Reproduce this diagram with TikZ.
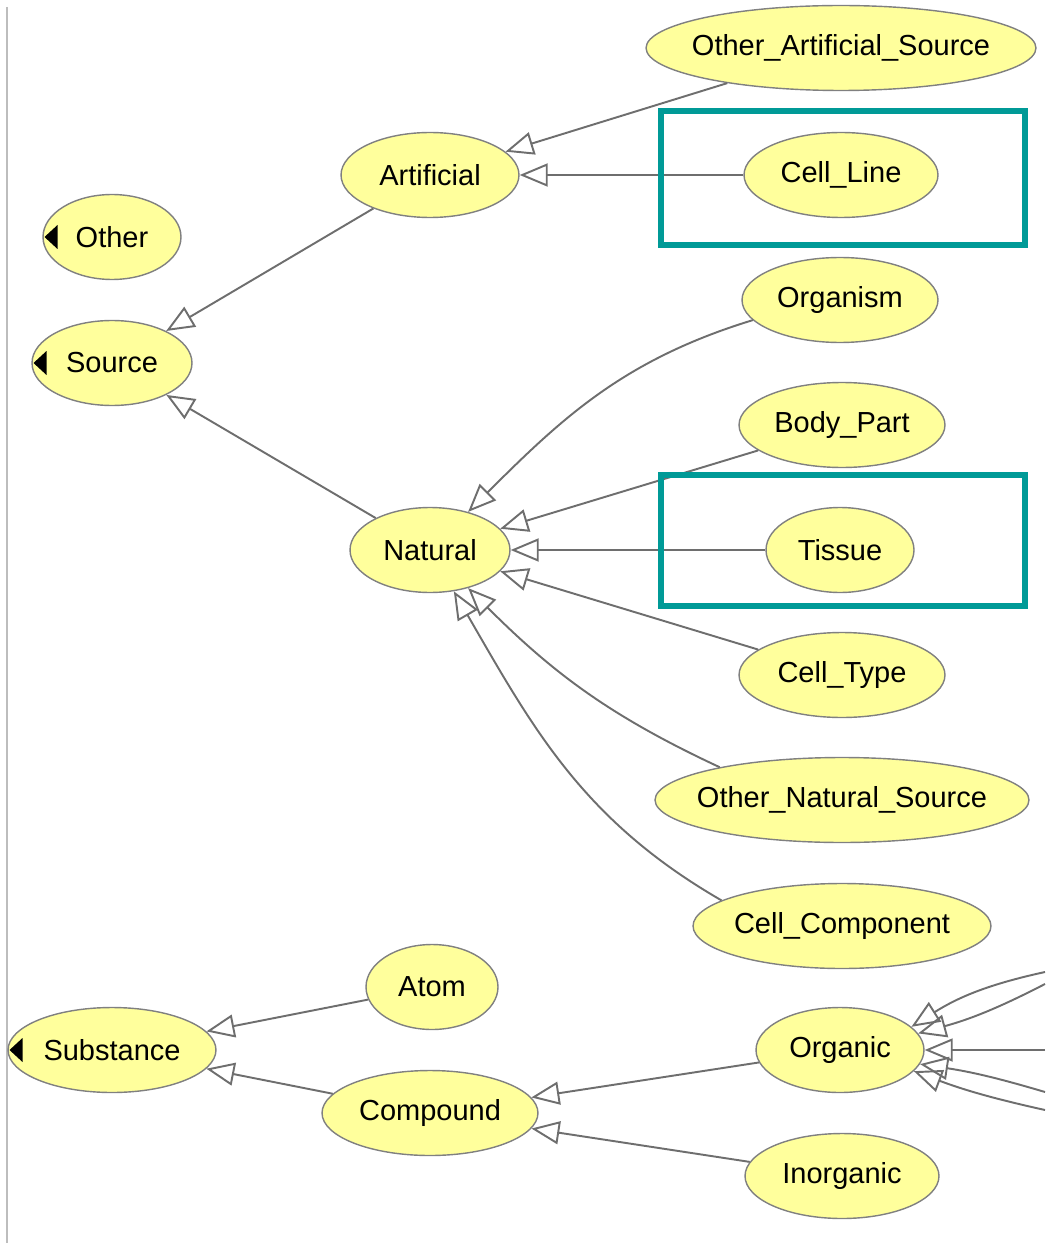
\documentclass[tikz,border=0pt]{standalone}
\usepackage{fontspec}
\setmainfont{Liberation Sans}
\usetikzlibrary{arrows.meta,shapes.geometric}
\definecolor{nodeYellow}{HTML}{FFFF9C}
\definecolor{nodeGray}{HTML}{808080}
\definecolor{edgeGray}{HTML}{6E6E6E}
\definecolor{frameTeal}{HTML}{009A97}
\definecolor{paneGray}{HTML}{BDBDBD}

\begin{document}
\begin{tikzpicture}[
  x=0.02cm, y=-0.02cm,
  every node/.style={font=\fontsize{16.5}{19.8}\selectfont},
  concept/.style={ellipse, draw=nodeGray, line width=0.8pt, fill=nodeYellow,
    minimum width=#1, minimum height=1.7cm, inner xsep=-0.3cm, inner ysep=0pt},
  concept/.default=3.2cm,
  collapsed/.style={path picture={
    \fill[black] ([xshift=0.03cm]path picture bounding box.west) -- ++(13,-12) -- ++(0,24) -- cycle;}},
  isa/.style={-{Triangle[open, length=0.56cm, width=0.46cm]}, edgeGray, line width=1.1pt},
  highlight/.style={draw=frameTeal, line width=3.4pt},
]
\useasboundingbox (0,0) rectangle (1045,1243);

% left pane border
\draw[paneGray, line width=1.2pt] (7,7) -- (7,1243);

% === Source / Other (top) ===
\node[concept=2.76cm, collapsed] (other) at (112,237) {Other};
\node[concept=3.2cm, collapsed] (source) at (112,363) {Source};

\node[concept=3.56cm] (artificial) at (430,175) {Artificial};
\node[concept=3.2cm] (natural) at (430,550) {Natural};

\node[concept=7.8cm] (other-art) at (841,48) {Other\_Artificial\_Source};
\node[concept=3.88cm] (cell-line) at (841,175) {Cell\_Line};

\node[concept=3.92cm] (organism) at (840,300) {Organism};
\node[concept=4.12cm] (body-part) at (842,425) {Body\_Part};
\node[concept=2.96cm] (tissue) at (840,550) {Tissue};
\node[concept=4.12cm] (cell-type) at (842,675) {Cell\_Type};
\node[concept=7.48cm] (other-nat) at (842,800) {Other\_Natural\_Source};
\node[concept=5.96cm] (cell-comp) at (842,926) {Cell\_Component};

\draw[isa] (artificial) -- (source);
\draw[isa] (natural) -- (source);
\draw[isa] (other-art) -- (artificial);
\draw[isa] (cell-line) -- (artificial);

\draw[isa] (organism.193) to[out=197, in=45] (natural);
\draw[isa] (body-part) -- (natural);
\draw[isa] (tissue) -- (natural);
\draw[isa] (cell-type) -- (natural);
\draw[isa] (other-nat.165) to[out=155, in=-45] (natural);
\draw[isa] (cell-comp.168) to[out=150, in=-60] (natural);

% highlight frames
\draw[highlight] (661,111) rectangle (1025,245);
\draw[highlight] (661,475) rectangle (1025,606);

% === Substance (bottom) ===
\node[concept=4.16cm, collapsed] (substance) at (112,1050) {Substance};
\node[concept=2.64cm] (atom) at (432,987) {Atom};
\node[concept=4.32cm] (compound) at (430,1113) {Compound};
\node[concept=3.36cm] (organic) at (840,1050) {Organic};
\node[concept=3.88cm] (inorganic) at (842,1176) {Inorganic};

\draw[isa] (atom) -- (substance);
\draw[isa] (compound) -- (substance);
\draw[isa] (organic) -- (compound);
\draw[isa] (inorganic) -- (compound);

% subclasses of Organic leaving the view
\coordinate (org-a) at (1045,972);
\coordinate (org-b) at (1045,984);
\coordinate (org-c) at (1045,1050);
\coordinate (org-d) at (1045,1092);
\coordinate (org-e) at (1045,1110);

\draw[isa] (org-a) to[bend right=10] (organic.18);
\draw[isa] (org-b) to[bend left=6] (organic.12);
\draw[isa] (org-c) -- (organic);
\draw[isa] (org-d) to[bend right=4] (organic.-10);
\draw[isa] (org-e) to[bend left=4] (organic.-16);
\end{tikzpicture}
\end{document}
